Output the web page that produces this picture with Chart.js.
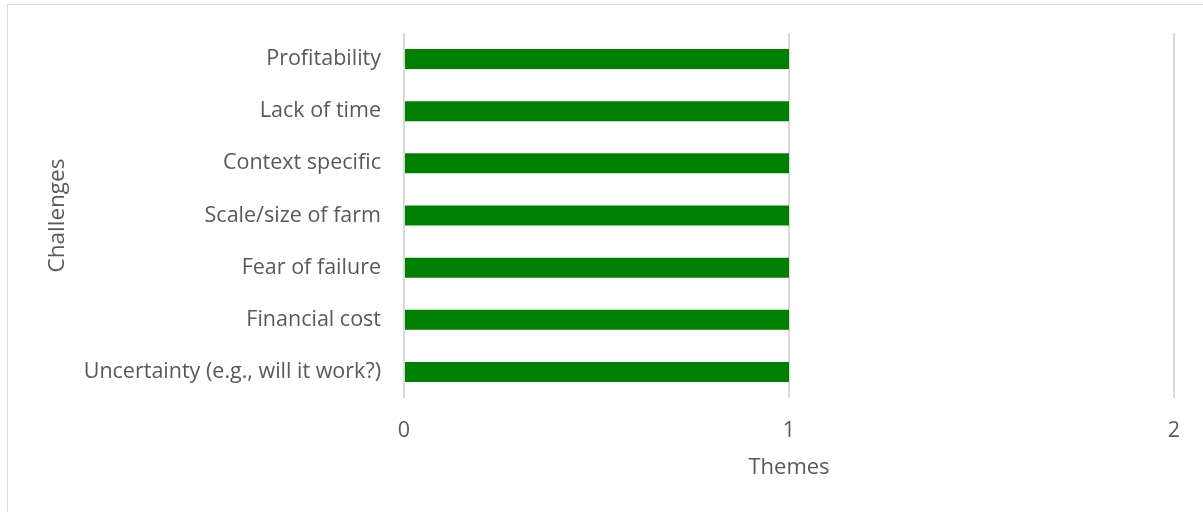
<!DOCTYPE html>
<html>
<head>
<meta charset="utf-8">
<script src="https://cdn.jsdelivr.net/npm/chart.js@4"></script>
<style>
  html, body { margin: 0; padding: 0; background: #fff; overflow: hidden; }
  #frame { position: absolute; left: 7px; top: 4px; width: 1220px; height: 530px; border: 1px solid #d9d9d9; }
  #wrap { position: absolute; left: 0; top: 0; width: 1203px; height: 512px; }
</style>
</head>
<body>
<div id="frame"></div>
<div id="wrap"><canvas id="chart"></canvas></div>
<script>
// Challenges mentioned, from bottom to top as shown
const challenges = [
    'Uncertainty (e.g., will it work?)',
    'Financial cost',
    'Fear of failure',
    'Scale/size of farm',
    'Context specific',
    'Lack of time',
    'Profitability'
];
const themeCounts = [1, 1, 1, 1, 1, 1, 1];
const themeTicks = [0, 1, 2];

const textColor = '#595959';
const fontFamily = '"Open Sans", "Liberation Sans", sans-serif';

new Chart(document.getElementById('chart'), {
    type: 'bar',
    data: {
        labels: challenges,
        datasets: [{
            data: themeCounts,
            backgroundColor: '#008000',
            categoryPercentage: 1,
            barPercentage: 0.384
        }]
    },
    options: {
        indexAxis: 'y',
        responsive: true,
        maintainAspectRatio: false,
        animation: false,
        layout: { padding: { top: 33, right: 29, bottom: 0, left: 0 } },
        plugins: {
            legend: { display: false },
            tooltip: { enabled: false }
        },
        scales: {
            x: {
                min: 0,
                max: 2,
                afterBuildTicks: scale => { scale.ticks = themeTicks.map(v => ({ value: v })); },
                afterFit: scale => { scale.height = 114; },
                grid: { color: '#d9d9d9', lineWidth: 2, drawTicks: false },
                border: { display: false },
                ticks: { color: textColor, padding: 20, font: { family: fontFamily, size: 21.5 } },
                title: {
                    display: true,
                    text: 'Themes',
                    color: textColor,
                    font: { family: fontFamily, size: 22 },
                    padding: { top: 0, bottom: 31 }
                }
            },
            y: {
                reverse: true,
                afterFit: scale => {
                    // fixed gutter for the labels, no extra label padding above/below
                    scale.width = 404;
                    scale.paddingTop = 0;
                    scale.paddingBottom = 0;
                },
                grid: { display: false, drawTicks: false },
                border: { display: false },
                ticks: { color: textColor, padding: 23, font: { family: fontFamily, size: 21.5 } },
                title: {
                    display: true,
                    text: 'Challenges',
                    color: textColor,
                    font: { family: fontFamily, size: 22.5 },
                    padding: { top: 44, bottom: 0 }
                }
            }
        }
    }
});
</script>
</body>
</html>
